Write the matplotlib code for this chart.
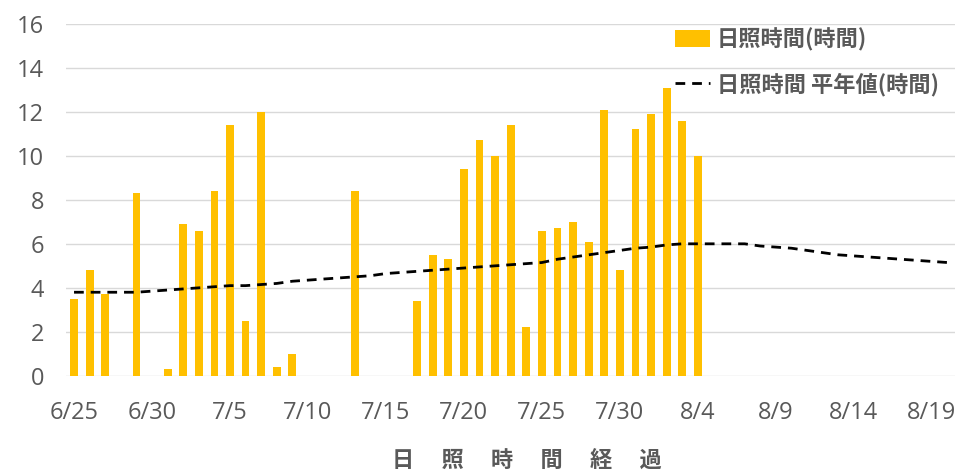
import matplotlib
matplotlib.use('Agg')
import matplotlib.pyplot as plt
import numpy as np

plt.rcParams['font.family'] = ['Noto Sans CJK JP', 'DejaVu Sans']

# 6/25 .. 8/20, one value per day
dates = ['6/25', '6/26', '6/27', '6/28', '6/29', '6/30', '7/1', '7/2', '7/3', '7/4',
         '7/5', '7/6', '7/7', '7/8', '7/9', '7/10', '7/11', '7/12', '7/13', '7/14',
         '7/15', '7/16', '7/17', '7/18', '7/19', '7/20', '7/21', '7/22', '7/23', '7/24',
         '7/25', '7/26', '7/27', '7/28', '7/29', '7/30', '7/31', '8/1', '8/2', '8/3',
         '8/4', '8/5', '8/6', '8/7', '8/8', '8/9', '8/10', '8/11', '8/12', '8/13',
         '8/14', '8/15', '8/16', '8/17', '8/18', '8/19', '8/20']

nan = np.nan
sunshine = [3.5, 4.8, 3.7, nan, 8.3, nan, 0.3, 6.9, 6.6, 8.4,
            11.4, 2.5, 12.0, 0.4, 1.0, nan, nan, nan, 8.4, nan,
            nan, nan, 3.4, 5.5, 5.3, 9.4, 10.7, 10.0, 11.4, 2.2,
            6.6, 6.7, 7.0, 6.1, 12.1, 4.8, 11.2, 11.9, 13.1, 11.6,
            10.0]

normal = [3.8, 3.8, 3.8, 3.8, 3.8, 3.85, 3.9, 3.95, 4.0, 4.05,
          4.1, 4.1, 4.15, 4.2, 4.3, 4.35, 4.4, 4.45, 4.5, 4.55,
          4.65, 4.7, 4.75, 4.8, 4.85, 4.9, 4.95, 5.0, 5.05, 5.1,
          5.15, 5.3, 5.4, 5.5, 5.6, 5.7, 5.8, 5.85, 5.95, 6.0,
          6.0, 6.0, 6.0, 6.0, 5.9, 5.85, 5.8, 5.7, 5.6, 5.5,
          5.45, 5.4, 5.35, 5.3, 5.25, 5.2, 5.15]

txt = '#595959'

fig = plt.figure(figsize=(9.6, 4.74), dpi=100)
ax = fig.add_axes([0.069, 0.207, 0.926, 0.743])

x_bar = np.arange(len(sunshine))
x_line = np.arange(len(normal))
bars = ax.bar(x_bar, sunshine, width=0.5, color='#FFC000', label='日照時間(時間)', zorder=2)
line, = ax.plot(x_line, normal, color='black', lw=2, ls=(0, (3.5, 2.5)),
                label='日照時間 平年値(時間)', zorder=3)

ax.set_xlim(-0.5, len(normal) - 0.5)
ax.set_ylim(0, 16)
ax.set_yticks(np.arange(0, 17, 2))
ax.set_xticks(x_line[::5])
ax.set_xticklabels(dates[::5])
ax.grid(axis='y', color='#d9d9d9', lw=1, zorder=0)
ax.set_axisbelow(True)
for s in ax.spines.values():
    s.set_visible(False)
ax.tick_params(length=0, colors=txt, labelsize=17)
ax.tick_params(axis='x', pad=18)
ax.tick_params(axis='y', pad=16)
for lab in ax.get_xticklabels() + ax.get_yticklabels():
    lab.set_family(['Open Sans', 'DejaVu Sans'])

fig.text(527 / 960, 1 - 460 / 474, '日　 照　 時　 間　 経　 過', ha='center', va='center',
         fontsize=16, fontweight='bold', color=txt)

leg = ax.legend([bars, line], ['日照時間(時間)', '日照時間 平年値(時間)'],
                loc='upper left', bbox_to_anchor=(0.662, 1.045), frameon=False,
                handlelength=1.6, handleheight=0.8, handletextpad=0.3, labelspacing=0.95,
                prop={'size': 16, 'weight': 'bold'})
for t in leg.get_texts():
    t.set_color(txt)

fig.savefig('out.png', dpi=100)
